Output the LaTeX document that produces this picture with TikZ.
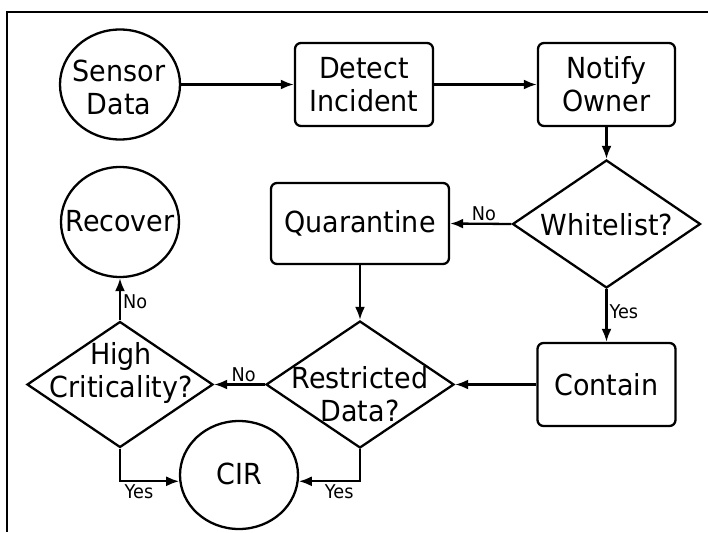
\documentclass[tikz,border=0pt]{standalone}
\usepackage{fontspec}
\setmainfont{DejaVu Sans}[FakeStretch=0.93]
\usetikzlibrary{arrows.meta,shapes.geometric}
\begin{document}
\begin{tikzpicture}[x=1pt,y=-1pt,
  every node/.style={font=\fontsize{29}{33}\selectfont},
  lw/.style={line width=2.3pt},
  flow/.style={lw,-{Latex[length=13pt,width=10pt]}},
  procbox/.style={draw,lw,rounded corners=6pt,inner sep=0pt,align=center},
  terminal/.style={draw,ellipse,lw,inner sep=0pt},
  decision/.style={draw,diamond,lw,inner sep=0pt},
  caption/.style={align=center,inner sep=0pt},
  branch/.style={font=\fontsize{19}{22}\selectfont,inner sep=2pt}]
\useasboundingbox (0,0) rectangle (708,532);
% frame
\draw[line width=2pt] (7,532) -- (7,12) -- (708,12);

% terminals
\node[terminal,minimum width=120pt,minimum height=110pt] (sensor) at (120,84.5) {};
\node[caption] (sensorT) at (119,87) {Sensor\\Data};
\node[terminal,minimum width=118pt,minimum height=110pt] (recover) at (120,222) {};
\node[caption] (recoverT) at (120,221) {Recover};
\node[terminal,minimum width=118pt,minimum height=108pt] (cir) at (239,475) {};
\node[caption] (cirT) at (239,474) {CIR};

% process boxes
\node[procbox,minimum width=138pt,minimum height=83pt] (detect) at (364,84.5) {Detect\\Incident};
\node[procbox,minimum width=137pt,minimum height=83pt] (notify) at (606.5,84.5) {Notify\\Owner};
\node[procbox,minimum width=178pt,minimum height=81pt] (quar) at (360,223.5) {Quarantine};
\node[procbox,minimum width=138pt,minimum height=83pt] (contain) at (606.5,384.5) {Contain};

% decisions
\node[decision,minimum width=188pt,minimum height=128pt] (white) at (606.5,224) {};
\node[caption] (whiteT) at (607,225) {Whitelist?};
\node[decision,minimum width=188pt,minimum height=127pt] (restr) at (360,384.5) {};
\node[caption] (restrT) at (360,394) {Restricted\\Data?};
\node[decision,minimum width=186pt,minimum height=126pt] (high) at (120,384.5) {};
\node[caption] (highT) at (121,373) {High\\Criticality?};

% connectors
\draw[flow] (sensor.east) -- (detect.west);
\draw[flow] (detect.east) -- (notify.west);
\draw[flow] (notify.south) -- (white.north);
\draw[flow] (white.west) -- node[branch,above,pos=0.45] (noA) {No} (quar.east);
\draw[flow] (white.south) -- node[branch,right,pos=0.42] (yesA) {Yes} (contain.north);
\draw[flow] (quar.south) -- (restr.north);
\draw[flow] (contain.west) -- (restr.east);
\draw[flow] (restr.west) -- node[branch,above,pos=0.42] (noB) {No} (high.east);
\draw[flow] (high.north) -- node[branch,right,pos=0.43] (noC) {No} (recover.south);
\draw[flow] (high.south) |- node[branch,below,pos=0.66] (yesB) {Yes} (cir.186);
\draw[flow] (restr.south) |- node[branch,below,pos=0.67] (yesC) {Yes} (cir.354);
\end{tikzpicture}
\end{document}
